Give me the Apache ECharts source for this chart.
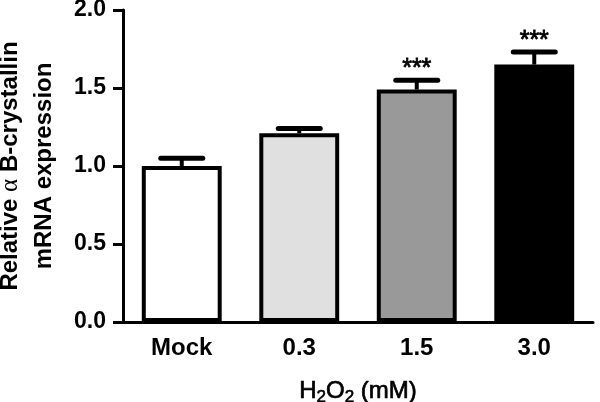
<!DOCTYPE html>
<html><head><meta charset="utf-8">
<script src="https://cdn.jsdelivr.net/npm/echarts@6/dist/echarts.min.js"></script>
<style>html,body{margin:0;padding:0;background:#fff}#c{width:600px;height:402px}</style>
</head><body><div id="c"></div>
<script>
const categories = ['Mock', '0.3', '1.5', '3.0'];
const means = [1.00, 1.21, 1.49, 1.65];
const errors = [0.05, 0.03, 0.06, 0.08];
const stars = ['', '', '***', '***'];
const barColors = ['#ffffff', '#e0e0e0', '#999999', '#000000'];

const chart = echarts.init(document.getElementById('c'));
const font = 'Arial, "Liberation Sans", sans-serif';
chart.setOption({
  animation: false,
  grid: { left: 123, right: 7, top: 10, bottom: 80, containLabel: false, outerBoundsMode: 'none' },
  xAxis: {
    type: 'category', data: categories,
    axisLine: { lineStyle: { color: '#000', width: 3 } },
    axisTick: { alignWithLabel: true, length: 9, lineStyle: { width: 3, color: '#000' } },
    axisLabel: { color: '#000', fontSize: 24, fontWeight: 'bold', fontFamily: font, margin: 14 },
    name: '{n|H}{s|2}{n|O}{s|2}{n| (mM)}', nameLocation: 'middle', nameGap: 55,
    nameTextStyle: { rich: {
      n: { fontSize: 24, fontFamily: font, color: '#000', fontWeight: 'normal', textBorderColor: '#000', textBorderWidth: 0.7 },
      s: { fontSize: 17, fontFamily: font, color: '#000', verticalAlign: 'bottom', padding: [12, 0, 0, 0], textBorderColor: '#000', textBorderWidth: 0.6 }
    } }
  },
  yAxis: {
    type: 'value', min: 0, max: 2, interval: 0.5,
    axisLine: { show: true, lineStyle: { color: '#000', width: 3 } },
    axisTick: { show: true, length: 10, lineStyle: { width: 3, color: '#000' } },
    splitLine: { show: false },
    axisLabel: { color: '#000', fontSize: 23, fontWeight: 'bold', fontFamily: font, margin: 17,
      formatter: v => v.toFixed(1) },
    name: '{b|Relative }{a|\u03B1}{b| B-crystallin}\n{b|mRNA expression}', nameLocation: 'middle', nameGap: 62,
    nameTextStyle: { rich: {
      b: { fontSize: 24, fontWeight: 'bold', fontFamily: font, color: '#000', lineHeight: 34 },
      a: { fontSize: 25, fontWeight: 'normal', fontFamily: '"Liberation Serif", "DejaVu Serif", serif', color: '#000', lineHeight: 34 }
    } }
  },
  series: [
    {
      type: 'bar', barWidth: '68%',
      data: means.map((v, i) => ({ value: v, itemStyle: { color: barColors[i] } })),
      itemStyle: { borderColor: '#000', borderWidth: 4 }
    },
    {
      type: 'custom',
      data: means.map((v, i) => [i, v, errors[i]]),
      renderItem: function (params, api) {
        const x = api.coord([api.value(0), 0])[0];
        const yTop = api.coord([0, api.value(1)])[1];
        const yErr = api.coord([0, api.value(1) + api.value(2)])[1];
        const half = 21;
        const children = [
          { type: 'line', shape: { x1: x, y1: yTop, x2: x, y2: yErr }, style: { stroke: '#000', lineWidth: 4 } },
          { type: 'line', shape: { x1: x - half, y1: yErr, x2: x + half, y2: yErr }, style: { stroke: '#000', lineWidth: 5, lineCap: 'round' } }
        ];
        const s = stars[params.dataIndex];
        if (s) {
          children.push({ type: 'text', style: { text: s, x: x, y: yErr - 24, align: 'center', verticalAlign: 'top',
            fontSize: 25, fontFamily: font, fill: '#000', stroke: '#000', lineWidth: 0.8 } });
        }
        return { type: 'group', children: children };
      },
      z: 5
    }
  ]
});
</script></body></html>
